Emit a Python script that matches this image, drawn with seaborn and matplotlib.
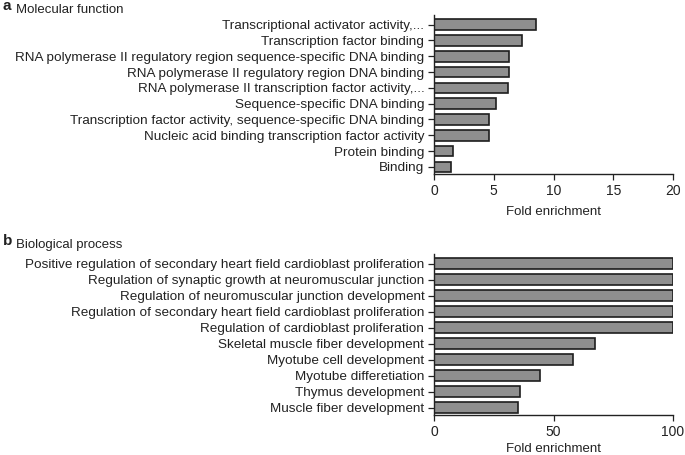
import pandas as pd
import matplotlib
matplotlib.use("Agg")
import matplotlib.pyplot as plt
import seaborn as sns

# GO term enrichment values
mf_terms = [
    "Transcriptional activator activity,...",
    "Transcription factor binding",
    "RNA polymerase II regulatory region sequence-specific DNA binding",
    "RNA polymerase II regulatory region DNA binding",
    "RNA polymerase II transcription factor activity,...",
    "Sequence-specific DNA binding",
    "Transcription factor activity, sequence-specific DNA binding",
    "Nucleic acid binding transcription factor activity",
    "Protein binding",
    "Binding",
]
mf_fold = [8.5, 7.4, 6.3, 6.27, 6.16, 5.2, 4.57, 4.57, 1.59, 1.39]
mf_ticks = [0, 5, 10, 15, 20]

bp_terms = [
    "Positive regulation of secondary heart field cardioblast proliferation",
    "Regulation of synaptic growth at neuromuscular junction",
    "Regulation of neuromuscular junction development",
    "Regulation of secondary heart field cardioblast proliferation",
    "Regulation of cardioblast proliferation",
    "Skeletal muscle fiber development",
    "Myotube cell development",
    "Myotube differetiation",
    "Thymus development",
    "Muscle fiber development",
]
bp_fold = [100, 100, 100, 100, 100, 67.4, 58.0, 44.4, 36.1, 35.2]
bp_ticks = [0, 50, 100]

sns.set_style("ticks")
plt.rcParams["font.family"] = ["Liberation Sans", "DejaVu Sans"]
plt.rcParams["text.color"] = "#222222"
plt.rcParams["axes.labelcolor"] = "#222222"
plt.rcParams["xtick.color"] = "#222222"
plt.rcParams["ytick.color"] = "#222222"

fig = plt.figure(figsize=(6.85, 4.55), dpi=100)
ax_a = fig.add_axes([0.6336, 0.6176, 0.3489, 0.349])
ax_b = fig.add_axes([0.6336, 0.088, 0.3489, 0.354])

panels = [
    (ax_a, mf_terms, mf_fold, mf_ticks, "a", "Molecular function", 1.003, 6),
    (ax_b, bp_terms, bp_fold, bp_ticks, "b", "Biological process", 0.485, 3),
]

for ax, terms, fold, ticks, letter, title, ytop, lpad in panels:
    df = pd.DataFrame({"term": terms, "fold": fold})
    sns.barplot(data=df, x="fold", y="term", orient="h", ax=ax,
                color="#8f8f8f", edgecolor="#1e1e1e", linewidth=1.2,
                width=0.68, saturation=1)
    ax.set_xlim(ticks[0], ticks[-1])
    ax.set_ylim(9.45, -0.6)
    ax.set_xticks(ticks)
    ax.set_xlabel("Fold enrichment", fontsize=9.5, labelpad=lpad)
    ax.set_ylabel("")
    ax.tick_params(axis="x", labelsize=10, length=4, width=0.9,
                   direction="out", pad=3)
    ax.tick_params(axis="y", labelsize=9.7, length=4, width=0.9,
                   direction="out", pad=3)
    for s in ["top", "right"]:
        ax.spines[s].set_visible(False)
    for s in ["left", "bottom"]:
        ax.spines[s].set_linewidth(1.0)
        ax.spines[s].set_color("#222222")
    fig.text(0.004, ytop, letter, fontsize=11, fontweight="bold", va="top")
    fig.text(0.024, ytop - 0.011, title, fontsize=9.5, va="top")

fig.savefig("out.png", dpi=100)
